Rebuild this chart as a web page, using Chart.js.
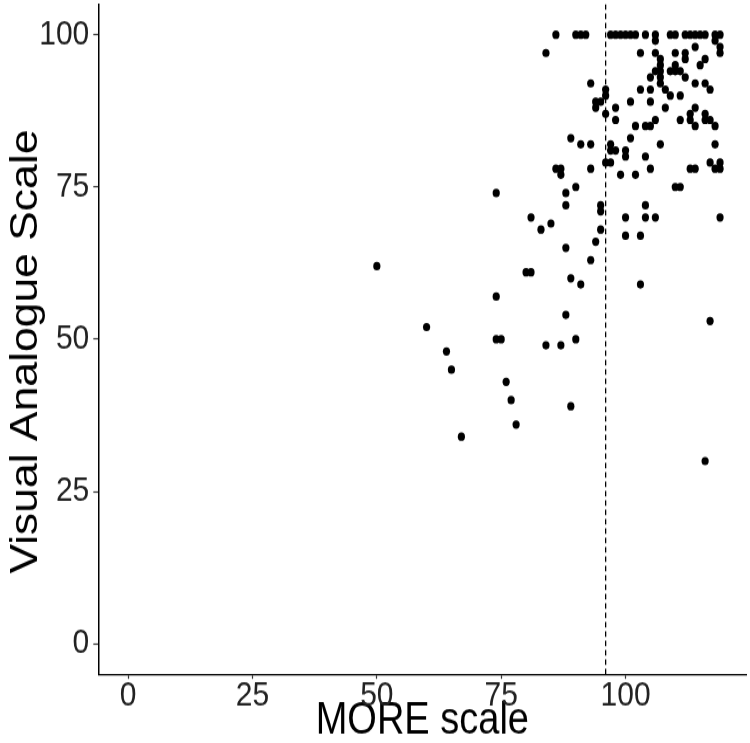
<!DOCTYPE html>
<html>
<head>
<meta charset="utf-8">
<script src="https://cdn.jsdelivr.net/npm/chart.js@4.4.1/dist/chart.umd.min.js"></script>
<style>
    body { margin: 0; background: #ffffff; }
    /* the reference figure is stretched vertically: the chart is drawn
       on a 750x635 canvas that is shown 743px tall */
    #scatterChart { display: block; width: 750px; height: 743px; }
</style>
</head>
<body>
<canvas id="scatterChart" width="750" height="635" style="width:750px;height:743px"></canvas>
<script>
// ================= Data =================
// MORE scale scores (x) and Visual Analogue Scale scores (y)
const moreScores = [
    50, 60, 64, 65, 67, 74, 74, 75, 76, 77, 78, 74,
    80, 81, 81, 83, 84, 84, 85, 86, 86, 87, 87, 87, 88, 88, 88, 88, 89, 89, 89, 90, 90, 90, 91, 92, 91, 91, 93, 93, 93, 93, 94, 94, 94, 95, 95, 95, 95,
    96, 96, 96, 96, 97, 97, 97, 98, 97, 98, 99, 98, 98, 99,
    100, 101, 102, 104, 106, 109, 110, 112, 113, 114, 115, 116, 118, 119,
    106, 118, 114, 119, 119, 103, 106, 110, 112, 112, 107, 116, 107, 110, 115,
    106, 107, 109, 110, 111, 105, 107, 112, 107, 114, 116,
    103, 105, 108, 117, 109, 111, 101, 105, 108, 114, 113, 116,
    106, 111, 113, 116, 117, 102, 104, 105, 114, 118,
    101, 107, 118, 100, 100, 104, 105, 113, 114, 117, 118, 119, 119,
    102, 110, 111, 104, 100, 104, 106, 119, 100, 103, 103, 117, 116
];
const vasScores = [
    62, 52, 48, 45, 34, 57, 50, 50, 43, 40, 36, 74,
    61, 61, 70, 68, 49, 97, 69, 78, 100, 78, 77, 49, 74, 72, 65, 54, 83, 60, 39, 75, 50, 100, 100, 100, 82, 59, 82, 78, 63, 92, 89, 88, 66, 89, 72, 71, 68,
    91, 90, 87, 79, 79, 82, 81, 81, 100, 100, 100, 88, 86, 77,
    100, 100, 100, 100, 100, 100, 100, 100, 100, 100, 100, 100, 100, 100,
    99, 99, 98, 98, 97, 97, 97, 97, 97, 96, 96, 96, 95, 95, 95,
    94, 94, 94, 94, 94, 93, 93, 93, 92, 92, 92,
    91, 91, 91, 91, 90, 90, 89, 89, 88, 88, 87, 87,
    86, 86, 86, 86, 86, 85, 85, 85, 85, 85,
    83, 82, 82, 81, 80, 80, 78, 78, 78, 79, 78, 78, 79,
    77, 75, 75, 72, 70, 70, 70, 70, 67, 67, 59, 53, 30
];

const xTicks = [0, 25, 50, 75, 100];
const yTicks = [0, 25, 50, 75, 100];
const cutoffX = 96;      // dashed reference line
const xRange = [-6, 124.3];
const yRange = [-5, 105];

const points = moreScores.map((x, i) => ({ x: x, y: vasScores[i] }));

const axisFont = "'Liberation Sans', Arial, sans-serif";

// ================= Scatter =================
const scatterChart = new Chart(document.getElementById("scatterChart"), {
    type: "scatter",
    data: {
        datasets: [
            {
                data: points,
                backgroundColor: "#000000",
                borderWidth: 0,
                pointRadius: 3.6,
                pointHoverRadius: 3.6
            },
            {
                // vertical dashed line at the cut-off
                type: "line",
                data: [{ x: cutoffX, y: yRange[0] }, { x: cutoffX, y: yRange[1] }],
                borderColor: "#000000",
                borderWidth: 1.3,
                borderDash: [4.6, 3.4],
                pointRadius: 0,
                fill: false
            }
        ]
    },
    options: {
        responsive: false,
        animation: false,
        devicePixelRatio: 1,
        layout: {
            padding: { top: 1, right: 3, left: 0, bottom: 0 }
        },
        plugins: {
            legend: { display: false },
            tooltip: { enabled: false }
        },
        scales: {
            x: {
                type: "linear",
                min: xRange[0],
                max: xRange[1],
                afterBuildTicks: axis => { axis.ticks = xTicks.map(v => ({ value: v })); },
                afterFit: axis => {
                    axis.height = 58.8;
                    axis.paddingLeft = 0;
                    axis.paddingRight = 0;
                },
                border: { display: true, color: "#000000", width: 1.3 },
                grid: {
                    drawOnChartArea: false,
                    drawTicks: true,
                    tickLength: 4,
                    tickWidth: 1.2,
                    tickColor: "#333333"
                },
                ticks: {
                    color: "#222222",
                    padding: -3,
                    font: { family: axisFont, size: 30 }
                },
                title: {
                    display: true,
                    text: "MORE scale",
                    color: "#000000",
                    padding: { top: 0, bottom: -4 },
                    font: { family: axisFont, size: 38 }
                }
            },
            y: {
                type: "linear",
                min: yRange[0],
                max: yRange[1],
                afterBuildTicks: axis => { axis.ticks = yTicks.map(v => ({ value: v })); },
                afterFit: axis => {
                    axis.width = 98.3;
                    axis.paddingTop = 0;
                    axis.paddingBottom = 0;
                },
                border: { display: true, color: "#000000", width: 1.5 },
                grid: {
                    drawOnChartArea: false,
                    drawTicks: true,
                    tickLength: 5,
                    tickWidth: 1.2,
                    tickColor: "#333333"
                },
                ticks: {
                    color: "#222222",
                    padding: 4,
                    font: { family: axisFont, size: 30 }
                },
                title: {
                    display: true,
                    text: "Visual Analogue Scale  ",
                    color: "#000000",
                    padding: { top: 4, bottom: 0 },
                    font: { family: axisFont, size: 38 }
                }
            }
        }
    }
});
</script>
</body>
</html>
